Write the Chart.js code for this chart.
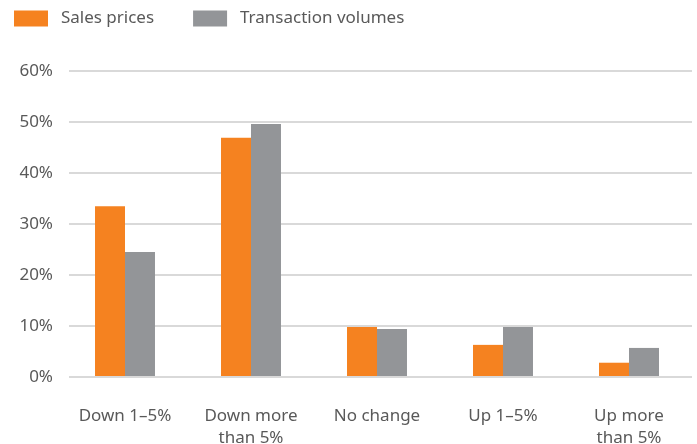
<!DOCTYPE html>
<html>
<head>
<meta charset="utf-8">
<script src="https://cdn.jsdelivr.net/npm/chart.js@4/dist/chart.umd.min.js"></script>
<style>
  html, body { margin: 0; padding: 0; background: #fff; }
  #wrap { width: 697px; height: 444px; }
</style>
</head>
<body>
<div id="wrap"><canvas id="bars" width="697" height="444"></canvas></div>
<script>
// values
const categories = [['Down 1\u20135%'], ['Down more', 'than 5%'], ['No change'], ['Up 1\u20135%'], ['Up more', 'than 5%']];
const salesPrices = [33.5, 46.9, 9.8, 6.3, 2.8];
const transactionVolumes = [24.5, 49.6, 9.4, 9.8, 5.7];
const yTicks = [0, 10, 20, 30, 40, 50, 60];

const ORANGE = '#f58220', GREY = '#939598', TEXT = '#595959', GRID = '#d9d9d9';
const FONT = 'Noto Sans';

// legend sits in the top-left corner, the plot starts at y=71
const legendPlacer = {
  id: 'legendPlacer',
  beforeInit(chart) {
    const lg = chart.legend;
    const fit = lg.fit;
    lg.fit = function () { fit.call(this); this.height = 71; };
  },
  afterLayout(chart) {
    const lg = chart.legend;
    const pad = lg.options.labels.padding;
    lg.left = 14 - pad;
    lg.top = 10 - pad;
  },
  // gridlines begin a little to the right of the plot edge
  beforeDatasetsDraw(chart) {
    const { ctx, chartArea } = chart;
    ctx.save();
    ctx.fillStyle = '#fff';
    ctx.fillRect(chartArea.left - 1, chartArea.top - 3, 8, chartArea.bottom - chartArea.top + 6);
    ctx.restore();
  }
};

const ctx = document.querySelector('#bars');
new Chart(ctx, {
  type: 'bar',
  data: {
    labels: categories,
    datasets: [
      { label: 'Sales prices', data: salesPrices, backgroundColor: ORANGE },
      { label: 'Transaction volumes', data: transactionVolumes, backgroundColor: GREY }
    ]
  },
  options: {
    responsive: false,
    animation: false,
    layout: { padding: { left: 0, right: 5, top: 0, bottom: 0 } },
    datasets: { bar: { barPercentage: 1, categoryPercentage: 0.476 } },
    scales: {
      x: {
        afterFit: axis => { axis.height = 67; },
        grid: { display: false, drawTicks: false },
        border: { display: false },
        ticks: { color: TEXT, font: { family: FONT, size: 17, lineHeight: 1.3 }, padding: 28, maxRotation: 0, autoSkip: false }
      },
      y: {
        min: 0,
        max: 60,
        afterFit: axis => { axis.width = 62; },
        afterBuildTicks: axis => { axis.ticks = yTicks.map(v => ({ value: v })); },
        grid: { color: GRID, lineWidth: 2, drawTicks: false },
        border: { display: false },
        ticks: { color: TEXT, font: { family: FONT, size: 17 }, padding: 9, callback: v => v + '%' }
      }
    },
    plugins: {
      legend: {
        position: 'top',
        align: 'start',
        labels: {
          color: TEXT,
          font: { family: FONT, size: 17 },
          boxWidth: 34,
          boxHeight: 16,
          padding: 39,
          generateLabels: chart => Chart.defaults.plugins.legend.labels.generateLabels(chart)
            .map(item => ({ ...item, text: ' ' + item.text }))
        }
      },
      tooltip: { enabled: false }
    }
  },
  plugins: [legendPlacer]
});
</script>
</body>
</html>
